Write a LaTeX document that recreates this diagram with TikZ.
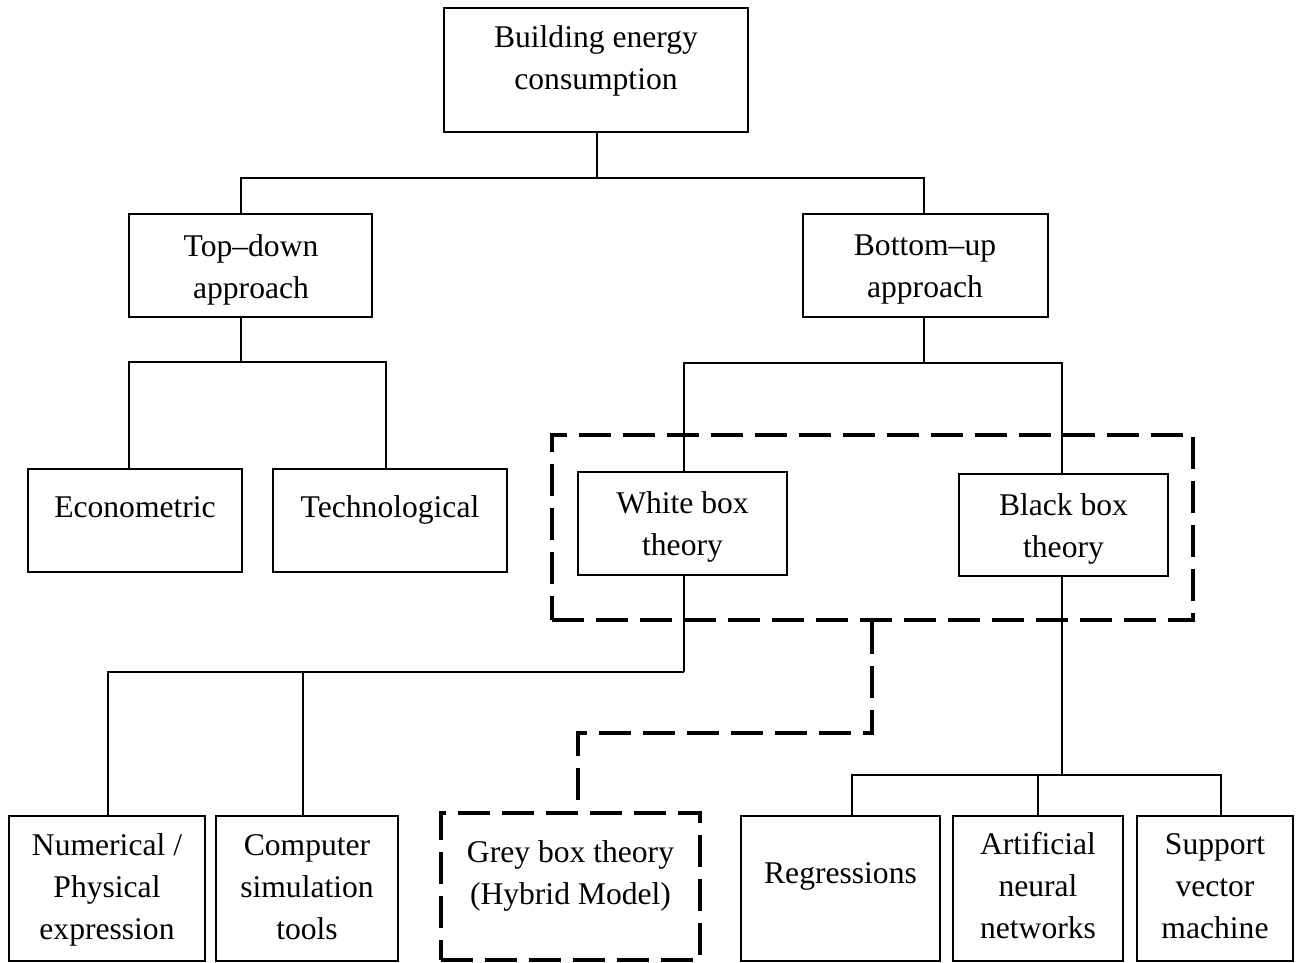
\documentclass[tikz,border=0pt]{standalone}
\usepackage{fontspec}
\setmainfont{Liberation Serif}
\begin{document}
\begin{tikzpicture}[x=1pt,y=-1pt,
  box/.style={draw, line width=1.8pt, rectangle, inner sep=0pt},
  dashbox/.style={draw, line width=4pt, dash pattern=on 32pt off 12pt, rectangle, inner sep=0pt},
  lbl/.style={font=\fontsize{31.6}{42}\selectfont, align=center, anchor=base, inner sep=0pt},
  link/.style={line width=1.8pt},
  dashlink/.style={line width=4pt, dash pattern=on 32pt off 12pt}]
\useasboundingbox (0,0) rectangle (1302,963);

% boxes
\node[box, minimum width=304pt, minimum height=124pt] (bec) at (596,70) {};
\node[box, minimum width=243pt, minimum height=103pt] (td) at (250.5,265.5) {};
\node[box, minimum width=245pt, minimum height=103pt] (bu) at (925.5,265.5) {};
\node[box, minimum width=214pt, minimum height=103pt] (eco) at (135,520.5) {};
\node[box, minimum width=234pt, minimum height=103pt] (tech) at (390,520.5) {};
\node[dashbox, minimum width=641pt, minimum height=185pt] (frame) at (872.5,527.5) {};
\node[box, minimum width=209pt, minimum height=103pt] (wb) at (682.5,523.5) {};
\node[box, minimum width=209pt, minimum height=102pt] (bb) at (1063.5,525) {};
\node[box, minimum width=196pt, minimum height=145pt] (num) at (107,888.5) {};
\node[box, minimum width=182pt, minimum height=145pt] (comp) at (307,888.5) {};
\node[dashbox, minimum width=259pt, minimum height=147pt] (grey) at (570.5,886.5) {};
\node[box, minimum width=199pt, minimum height=145pt] (reg) at (840.5,888.5) {};
\node[box, minimum width=170pt, minimum height=145pt] (ann) at (1038,888.5) {};
\node[box, minimum width=156pt, minimum height=145pt] (svm) at (1215,888.5) {};

% texts (anchored at the baseline of their last line)
\node[lbl] (tbec) at (596,90) {Building energy\\consumption};
\node[lbl] (ttd) at (251,298) {Top–down\\approach};
\node[lbl] (tbu) at (925,297) {Bottom–up\\approach};
\node[lbl] (teco) at (135,517) {Econometric};
\node[lbl] (ttech) at (390,517) {Technological};
\node[lbl] (twb) at (682.5,555) {White box\\theory};
\node[lbl] (tbb) at (1063.5,557) {Black box\\theory};
\node[lbl] (tnum) at (107,939) {Numerical /\\Physical\\expression};
\node[lbl] (tcomp) at (307,939) {Computer\\simulation\\tools};
\node[lbl] (tgrey) at (570.5,904) {Grey box theory\\(Hybrid Model)};
\node[lbl] (treg) at (840.5,883) {Regressions};
\node[lbl] (tann) at (1038,938) {Artificial\\neural\\networks};
\node[lbl] (tsvm) at (1215,938) {Support\\vector\\machine};

% junctions of the tree
\coordinate (j1) at (597,178);
\coordinate (j2) at (241,362);
\coordinate (j3) at (924,363);
\coordinate (j4) at (684,672);
\coordinate (j5) at (1062,775);
\coordinate (j6) at (872,733);

% connectors
\draw[link] (j1 |- bec.south) -- (j1);
\draw[link] ([xshift=-9.5pt]td.north) |- (j1) -| ([xshift=-1.5pt]bu.north);

\draw[link] (j2 |- td.south) -- (j2);
\draw[link] ([xshift=-6pt]eco.north) |- (j2) -| ([xshift=-4pt]tech.north);

\draw[link] (j3 |- bu.south) -- (j3);
\draw[link] ([xshift=1.5pt]wb.north) |- (j3) -| ([xshift=-1.5pt]bb.north);

\draw[link] (j4 |- wb.south) -- (j4);
\draw[link] ([xshift=1pt]num.north) |- (j4);
\draw[link] ([xshift=-4pt]comp.north) -- ([xshift=-4pt]comp.north |- j4);

\draw[link] (j5 |- bb.south) -- (j5);
\draw[link] ([xshift=11.5pt]reg.north) |- (j5) -| ([xshift=6pt]svm.north);
\draw[link] (ann.north) -- (ann.north |- j5);

\draw[dashlink] (j6 |- frame.south) -- (j6) -| ([xshift=7.5pt]grey.north);
\end{tikzpicture}
\end{document}
